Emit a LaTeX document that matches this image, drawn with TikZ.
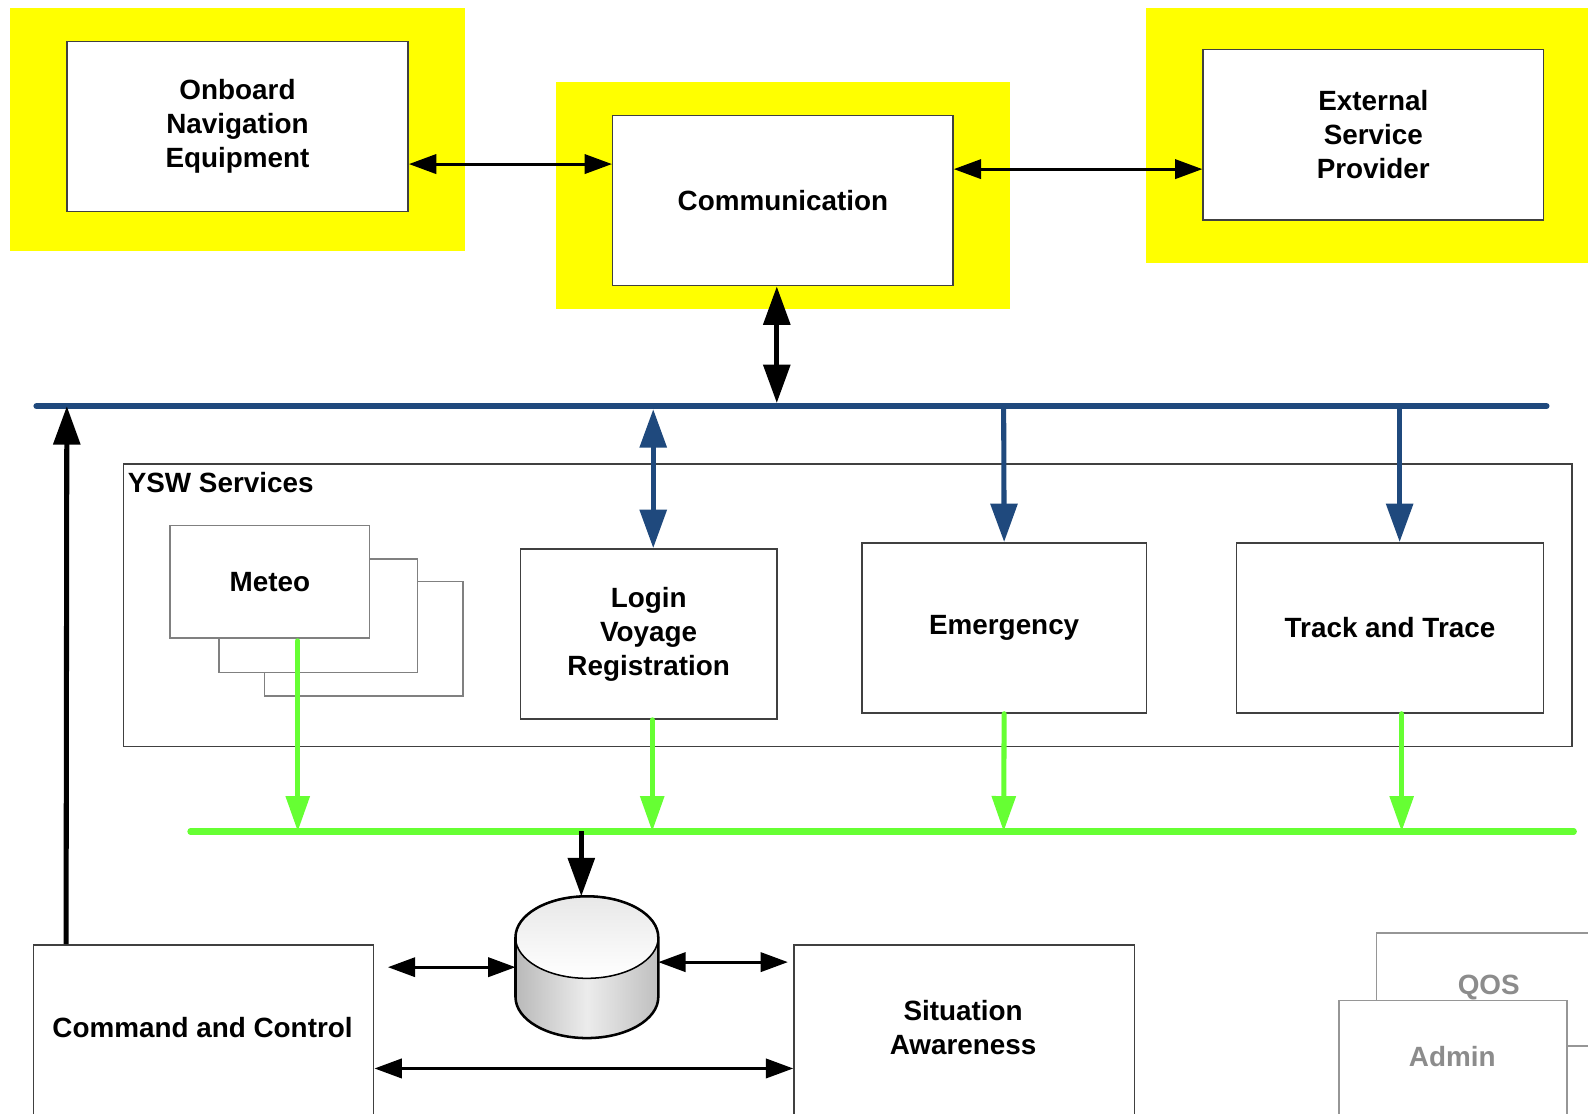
\documentclass[tikz,border=0pt]{standalone}
\usepackage{fontspec}
\setmainfont{Liberation Sans}
\usetikzlibrary{arrows.meta}
\definecolor{ybg}{RGB}{255,255,0}
\definecolor{busblue}{RGB}{31,73,125}
\definecolor{busgreen}{RGB}{102,255,51}
\definecolor{boxline}{RGB}{64,64,64}
\definecolor{lightline}{RGB}{128,128,128}
\definecolor{fadeline}{RGB}{150,150,150}
\definecolor{fadedtext}{RGB}{140,140,140}
\begin{document}
\begin{tikzpicture}[x=1pt,y=-1pt,
  txt/.style={font=\fontsize{27.5}{33.5}\selectfont\bfseries, align=center, inner sep=0pt},
  box/.style={draw=boxline, line width=1.5pt, fill=white, rectangle, inner sep=0pt, txt},
  lightbox/.style={draw=lightline, line width=1.5pt, fill=white, rectangle, inner sep=0pt, txt},
  fadebox/.style={draw=fadeline, line width=1.5pt, fill=white, rectangle, inner sep=0pt},
  fadetxt/.style={txt, text=fadedtext},
  thinarr/.style={line width=3pt, {Triangle[length=27pt,width=19pt]}-{Triangle[length=27pt,width=19pt]}},
  thickdbl/.style={line width=5pt, {Triangle[length=38pt,width=26pt]}-{Triangle[length=38pt,width=26pt]}},
  thickone/.style={line width=5pt, -{Triangle[length=38pt,width=26pt]}},
  greenone/.style={line width=5pt, busgreen, line cap=round, -{Triangle[length=35pt,width=23pt]}},
  bus/.style={line width=6pt, line cap=round}
]
\useasboundingbox (0,0) rectangle (1568,1099);
\clip (0,0) rectangle (1568,1099);

% yellow highlights
\fill[ybg] (10,8) rectangle (459,248);
\fill[ybg] (549,81) rectangle (997,305);
\fill[ybg] (1132,8) rectangle (1600,260);

% top boxes
\node[box, minimum width=337pt, minimum height=168pt] (onb) at (234.5,125) {Onboard\\Navigation\\Equipment};
\node[box, minimum width=336pt, minimum height=168pt] (comm) at (773,198) {Communication};
\node[box, minimum width=336pt, minimum height=168pt] (ext) at (1356,133) {External\\Service\\Provider};

% top connectors
\draw[thinarr] (onb.east |- 0,162) -- (comm.west |- 0,162);
\draw[thinarr] (comm.east |- 0,167) -- (ext.west |- 0,167);

% blue bus
\coordinate (busL) at (36,401);
\coordinate (busR) at (1527,401);
\coordinate (bCC) at (66,401);
\coordinate (bComm) at (767,398);
\coordinate (bLogin) at (645,404);
\coordinate (bEmer) at (991,401);
\coordinate (bTrack) at (1382,401);
\draw[bus, busblue] (busL) -- (busR);
\draw[thickdbl] ([xshift=-6pt]comm.south) -- (bComm);

% YSW services frame
\node[draw=boxline, line width=1.5pt, rectangle, inner sep=0pt, minimum width=1430pt, minimum height=279pt] (ysw) at (837,597.5) {};
\node[txt, anchor=west] (yswlbl) at (126,476) {YSW Services};

% Meteo stack
\node[lightbox, minimum width=196pt, minimum height=113pt] (met3) at (359,630.5) {};
\node[lightbox, minimum width=196pt, minimum height=112pt] (met2) at (314,608) {};
\node[lightbox, minimum width=197pt, minimum height=111pt] (meteo) at (266.5,574.5) {Meteo};

% service boxes
\node[box, minimum width=253pt, minimum height=168pt] (login) at (640.5,626) {Login\\Voyage\\Registration};
\node[box, minimum width=281pt, minimum height=168pt] (emer) at (991.5,620) {Emergency};
\node[box, minimum width=303pt, minimum height=168pt] (track) at (1372.5,620) {Track and Trace};

% blue connectors
\draw[thickdbl, busblue] (bLogin) -- ([xshift=4.5pt]login.north);
\draw[thickone, busblue] (bEmer) -- (emer.north);
\draw[thickone, busblue] (bTrack) -- ([xshift=9.5pt]track.north);

% green bus
\coordinate (gL) at (188,821);
\coordinate (gR) at (1554,821);
\coordinate (gMet) at (294,821);
\coordinate (gLog) at (644,821);
\coordinate (gEm) at (991,821);
\coordinate (gTr) at (1384,821);
\coordinate (gDb) at (574,821);
\draw[bus, busgreen] (gL) -- (gR);
\draw[greenone] ([xshift=27.5pt,yshift=-2pt]meteo.south) -- (gMet);
\draw[greenone] ([xshift=3.5pt]login.south) -- (gLog);
\draw[greenone] (emer.south) -- (gEm);
\draw[greenone] ([xshift=11.5pt]track.south) -- (gTr);

% database cylinder
\shade[left color=gray!55, right color=gray!50, middle color=gray!15]
  (509,925.5) -- (509,984.5) arc[start angle=180, end angle=0, x radius=70.5, y radius=40.5] -- (650,925.5) arc[start angle=0, end angle=-180, x radius=70.5, y radius=40.5] -- cycle;
\shadedraw[top color=gray!18, bottom color=white, draw=black, line width=1.5pt]
  (579.5,925.5) ellipse [x radius=70.5, y radius=40.5];
\draw[black, line width=2.5pt]
  (509,925.5) -- (509,984.5) arc[start angle=180, end angle=0, x radius=70.5, y radius=40.5] -- (650,925.5) arc[start angle=0, end angle=-180, x radius=70.5, y radius=40.5] -- cycle;
\coordinate (dbTop) at (574,885);
\coordinate (dbL) at (509,955);
\coordinate (dbR) at (650,950);
\draw[thickone] (gDb) -- (dbTop);

% bottom boxes
\node[box, minimum width=336pt, minimum height=220pt] (cc) at (201,1043) {};
\node[txt] (cctxt) at (200,1015) {Command and Control};
\node[box, minimum width=336pt, minimum height=220pt] (sit) at (952,1043) {};
\node[txt] (sittxt) at (951,1015) {Situation\\Awareness};

\node[fadebox, minimum width=261pt, minimum height=219pt] (qos) at (1489.5,1030.5) {};
\node[fadetxt] (qostxt) at (1470,975) {QOS};
\node[fadebox, minimum width=225pt, minimum height=152pt] (admin) at (1434.5,1064) {};
\node[fadetxt] (admintxt) at (1434,1043) {Admin};
\coordinate (adminR) at (1600,1033);
\draw[draw=fadeline, line width=1.5pt] (admin.east |- adminR) -- (adminR);

% bottom connectors
\coordinate (ccFree) at (383,955);
\coordinate (sitFree) at (778,950);
\draw[thinarr] (ccFree) -- (dbL);
\draw[thinarr] (dbR) -- (sitFree);
\draw[thinarr] (cc.east |- 0,1055) -- (sit.west |- 0,1055);
\draw[thickone] ([xshift=33pt]cc.north west) -- (bCC);
\end{tikzpicture}
\end{document}
